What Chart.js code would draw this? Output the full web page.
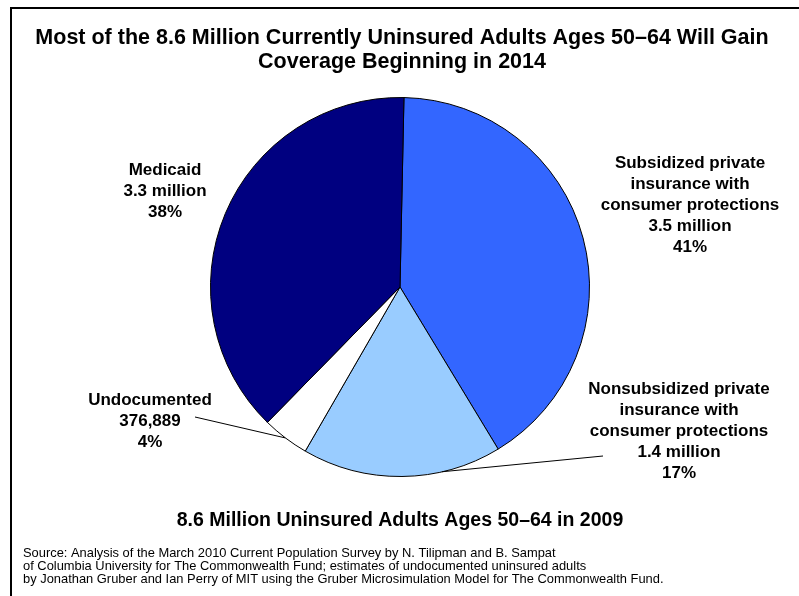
<!DOCTYPE html>
<html>
<head>
<meta charset="utf-8">
<script src="https://cdn.jsdelivr.net/npm/chart.js@4.4.0/dist/chart.umd.min.js"></script>
<style>
    body { margin: 0; background: #fff; }
    #wrap { width: 799px; height: 596px; position: relative; }
</style>
</head>
<body>
<div id="wrap"><canvas id="myChart"></canvas></div>
<script>
var categories = ['Subsidized private insurance with consumer protections', 'Nonsubsidized private insurance with consumer protections', 'Undocumented', 'Medicaid'];
var shares = [41, 17, 4, 38];
var amounts = ['3.5 million', '1.4 million', '376,889', '3.3 million'];
var sliceColors = ['#3366FF', '#99CCFF', '#FFFFFF', '#000080'];

var titleLines = ['Most of the 8.6 Million Currently Uninsured Adults Ages 50\u201364 Will Gain', 'Coverage Beginning in 2014'];
var subTitle = '8.6 Million Uninsured Adults Ages 50\u201364 in 2009';
var sourceLines = [
    'Source: Analysis of the March 2010 Current Population Survey by N. Tilipman and B. Sampat',
    'of Columbia University for The Commonwealth Fund; estimates of undocumented uninsured adults',
    'by Jonathan Gruber and Ian Perry of MIT using the Gruber Microsimulation Model for The Commonwealth Fund.'
];

// label text blocks: first lines of the category name, then amount and percent
var labelLines = [
    ['Subsidized private', 'insurance with', 'consumer protections'],
    ['Nonsubsidized private', 'insurance with', 'consumer protections'],
    ['Undocumented'],
    ['Medicaid']
];
var labelPos = [[690, 163], [679, 389], [150, 400], [165, 170]];
// leader lines: label side point, and where on the slice they end (fraction of the slice)
var leaders = [null, { from: [603, 456], frac: 0.3 }, { from: [195, 417], frac: 0.5 }, null];

var FONT = "'Liberation Sans', Arial, Helvetica, sans-serif";

var textPlugin = {
    id: 'textPlugin',
    afterDraw: function (chart) {
        var ctx = chart.ctx;
        ctx.save();

        // frame
        ctx.fillStyle = '#000';
        ctx.fillRect(10, 7, 789, 2);
        ctx.fillRect(10, 7, 2, 589);

        ctx.textAlign = 'center';
        ctx.textBaseline = 'middle';
        ctx.font = 'bold 21.5px ' + FONT;
        ctx.fillText(titleLines[0], 402, 38);
        ctx.fillText(titleLines[1], 402, 62);

        ctx.font = 'bold 19.5px ' + FONT;
        ctx.fillText(subTitle, 400, 521);

        ctx.textAlign = 'left';
        ctx.font = '12.9px ' + FONT;
        for (var s = 0; s < sourceLines.length; s++) {
            ctx.fillText(sourceLines[s], 23, 553 + s * 13);
        }

        // slice labels
        ctx.textAlign = 'center';
        ctx.font = 'bold 17px ' + FONT;
        for (var i = 0; i < labelLines.length; i++) {
            var lines = labelLines[i].concat([amounts[i], shares[i] + '%']);
            for (var j = 0; j < lines.length; j++) {
                ctx.fillText(lines[j], labelPos[i][0], labelPos[i][1] + j * 21);
            }
        }

        // leader lines
        var arcs = chart.getDatasetMeta(0).data;
        ctx.strokeStyle = '#000';
        ctx.lineWidth = 1;
        for (var k = 0; k < leaders.length; k++) {
            if (!leaders[k]) continue;
            var a = arcs[k];
            var ang = a.startAngle + (a.endAngle - a.startAngle) * leaders[k].frac;
            var ex = a.x + Math.cos(ang) * a.outerRadius;
            var ey = a.y + Math.sin(ang) * a.outerRadius;
            ctx.beginPath();
            ctx.moveTo(leaders[k].from[0], leaders[k].from[1]);
            ctx.lineTo(ex, ey);
            ctx.stroke();
        }
        ctx.restore();
    }
};

var ctx = document.getElementById('myChart').getContext('2d');
var myChart = new Chart(ctx, {
    type: 'pie',
    data: {
        labels: categories,
        datasets: [{
            data: shares,
            backgroundColor: sliceColors,
            borderColor: '#000',
            borderWidth: 1
        }]
    },
    options: {
        responsive: true,
        maintainAspectRatio: false,
        animation: false,
        rotation: 1.2,
        layout: {
            padding: { top: 97, bottom: 119, left: 10, right: 9 }
        },
        plugins: {
            legend: { display: false },
            tooltip: { enabled: false }
        }
    },
    plugins: [textPlugin]
});
</script>
</body>
</html>
